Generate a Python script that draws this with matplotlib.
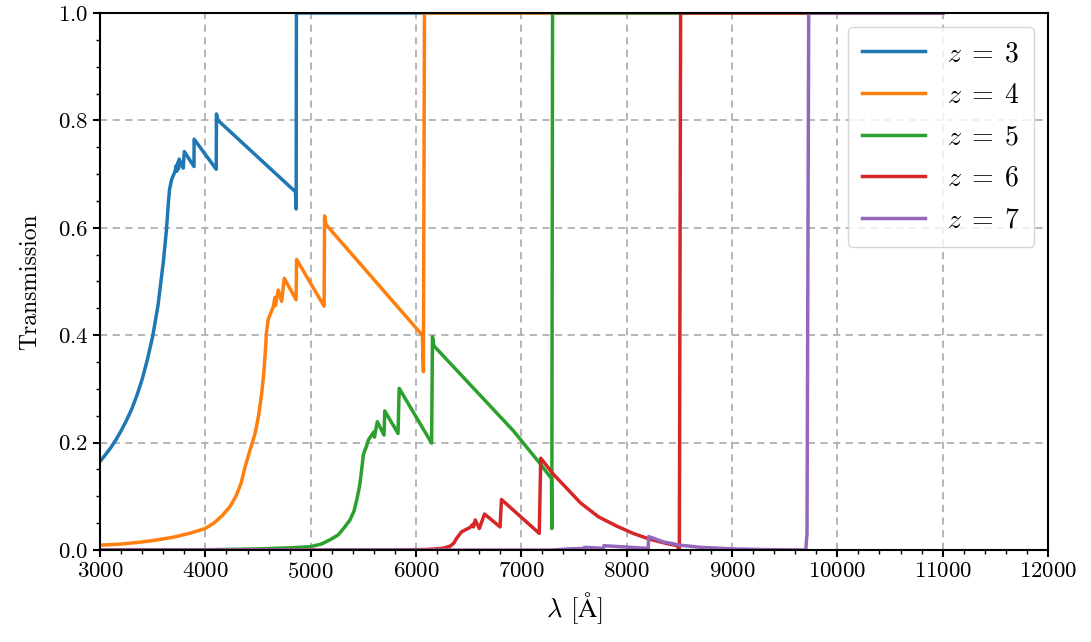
import numpy as np
import matplotlib
matplotlib.use('Agg')
import matplotlib.pyplot as plt
from matplotlib.ticker import MultipleLocator

plt.rcParams['font.family'] = 'serif'
plt.rcParams['font.serif'] = ['cmr10', 'DejaVu Serif']
plt.rcParams['mathtext.fontset'] = 'cm'
plt.rcParams['axes.formatter.use_mathtext'] = True

# IGM transmission curves, wavelength in Angstrom
lam_z3 = [3000, 3050, 3100, 3150, 3200, 3250, 3300, 3350, 3400, 3450, 3500, 3550,
          3600, 3630, 3648, 3660, 3680, 3712, 3724, 3728, 3740, 3745,
          3751, 3790, 3800, 3892, 3893, 4103, 4105, 4120, 4855, 4862, 4864, 11000]
tr_z3 = [0.165, 0.177, 0.19, 0.205, 0.222, 0.241, 0.262, 0.288, 0.318, 0.355, 0.398, 0.455,
         0.535, 0.595, 0.645, 0.672, 0.690, 0.705, 0.716, 0.705, 0.722, 0.710,
         0.728, 0.711, 0.742, 0.714, 0.765, 0.709, 0.812, 0.800, 0.667, 0.635, 1.0, 1.0]

lam_z4 = [3000, 3200, 3400, 3537, 3700, 3850, 3997, 4080, 4160, 4234, 4290, 4340,
          4377, 4430, 4472, 4505, 4535, 4555, 4568, 4580, 4597, 4645, 4660, 4665,
          4692, 4724, 4749, 4861, 4866, 5127, 5132, 5145, 6060, 6070, 6080, 11000]
tr_z4 = [0.009, 0.011, 0.015, 0.0186, 0.024, 0.031, 0.040, 0.050, 0.064, 0.081, 0.100, 0.125,
         0.155, 0.19, 0.217, 0.25, 0.292, 0.33, 0.366, 0.405, 0.430, 0.453, 0.47, 0.455,
         0.484, 0.463, 0.506, 0.466, 0.541, 0.454, 0.622, 0.606, 0.400, 0.332, 1.0, 1.0]

lam_z5 = [3000, 4000, 4500, 4800, 4994, 5100, 5184, 5260, 5320, 5373, 5410, 5437,
          5465, 5484, 5500, 5531, 5548, 5600, 5605, 5632, 5696, 5703, 5829, 5840,
          6148, 6156, 6170, 6924, 7177, 7286, 7289, 7296, 11000]
tr_z5 = [0.0, 0.0005, 0.002, 0.004, 0.006, 0.011, 0.019, 0.028, 0.042, 0.056, 0.072, 0.093,
         0.12, 0.150, 0.178, 0.194, 0.205, 0.22, 0.21, 0.239, 0.214, 0.259, 0.217, 0.301,
         0.199, 0.397, 0.38, 0.222, 0.161, 0.133, 0.040, 1.0, 1.0]

lam_z6 = [3000, 5800, 6100, 6250, 6323, 6360, 6386, 6433, 6513, 6540, 6545, 6562,
          6601, 6650, 6798, 6811, 7170, 7184, 7300, 7430, 7560, 7730, 7900, 8060,
          8220, 8380, 8480, 8500, 8512, 11000]
tr_z6 = [0.0, 0.0, 0.001, 0.003, 0.007, 0.013, 0.022, 0.034, 0.042, 0.048, 0.043, 0.056,
         0.040, 0.067, 0.043, 0.094, 0.031, 0.171, 0.142, 0.115, 0.088, 0.062, 0.045, 0.031,
         0.020, 0.012, 0.008, 0.0, 1.0, 1.0]

lam_z7 = [3000, 7296, 7450, 7598, 7600, 7780, 7784, 8205, 8208, 8350, 8506, 8700,
          9012, 9400, 9700, 9712, 9728, 11000]
tr_z7 = [0.0, 0.0, 0.002, 0.003, 0.005, 0.003, 0.008, 0.003, 0.025, 0.015, 0.009, 0.005,
         0.002, 0.0005, 0.0, 0.03, 1.0, 1.0]

redshifts = [3, 4, 5, 6, 7]
lams = [lam_z3, lam_z4, lam_z5, lam_z6, lam_z7]
trans = [tr_z3, tr_z4, tr_z5, tr_z6, tr_z7]

fig = plt.figure(figsize=(10.91, 6.42), dpi=100)
ax = fig.add_axes([0.0917, 0.1433, 0.8689, 0.8365])

for z, l, t in zip(redshifts, lams, trans):
    ax.plot(l, t, lw=2.5, label=rf'$z\;=\;{z}$')

ax.set_xlim(3000, 12000)
ax.set_ylim(0, 1)
ax.xaxis.set_major_locator(MultipleLocator(1000))
ax.xaxis.set_minor_locator(MultipleLocator(200))
ax.yaxis.set_major_locator(MultipleLocator(0.2))
ax.yaxis.set_minor_locator(MultipleLocator(0.05))
ax.tick_params(which='major', length=5, width=1.5, labelsize=16.5)
ax.tick_params(which='minor', length=3, width=1.0)
for s in ax.spines.values():
    s.set_linewidth(1.5)

ax.grid(True, which='major', ls='--', lw=1.3, color='#b0b0b0', dashes=(4, 3))
ax.set_xlabel(r'$\lambda$ [$\mathrm{\AA}$]', fontsize=19, labelpad=6)
ax.set_ylabel('Transmission', fontsize=17, labelpad=12)
ax.legend(loc='upper right', fontsize=20, handlelength=2.27, handletextpad=0.8,
          borderpad=0.5, labelspacing=0.55, framealpha=0.8)

fig.savefig('out.png', dpi=100)
